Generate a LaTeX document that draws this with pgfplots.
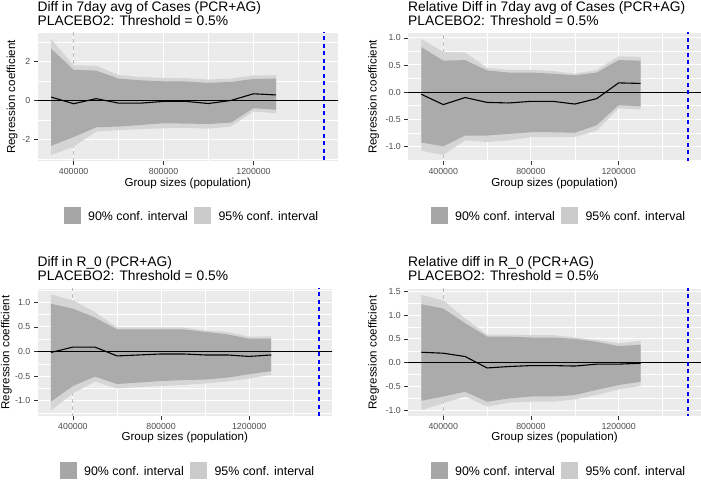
\documentclass[border=0pt]{standalone}
\usepackage{pgfplots}
\pgfplotsset{compat=1.18}
\usepackage{fontspec}
\setmainfont{Liberation Sans}
\definecolor{panelbg}{HTML}{EBEBEB}
\definecolor{bandlight}{HTML}{D5D5D5}
\definecolor{banddark}{HTML}{ABABAB}
\definecolor{legdark}{HTML}{A6A6A6}
\definecolor{leglight}{HTML}{CBCBCB}
\definecolor{labc}{HTML}{4D4D4D}
\definecolor{tickc}{HTML}{333333}
\definecolor{vgrey}{HTML}{BDBDBD}
\definecolor{bluel}{HTML}{0000FF}
\newcommand\ticksize{\fontsize{8.8}{10}\selectfont}
\newcommand\titlesize{\fontsize{13.8}{16}\selectfont}
\newcommand\labsize{\fontsize{11.6}{13}\selectfont}
\newcommand\legsize{\fontsize{12.4}{14}\selectfont}
\pgfplotsset{
  ggaxis/.style={
    scale only axis,
    anchor=south west,
    axis background/.style={fill=panelbg},
    axis line style={draw=none},
    xmin=239250, xmax=1575750,
    xtick={400000,800000,1200000},
    xticklabels={400000,800000,1200000},
    minor xtick={600000,1000000,1400000},
    grid=both,
    major grid style={white, line width=1.0pt},
    minor grid style={white, line width=0.5pt},
    tick align=outside,
    xtick pos=left, ytick pos=left,
    major tick length=3.7pt,
    minor tick length=0pt,
    tick style={color=tickc, line width=0.55pt},
    ticklabel style={font=\ticksize, text=labc},
    scaled ticks=false,
  },
  band95/.style={fill=bandlight, draw=none},
  band90/.style={fill=banddark, draw=none},
  est/.style={draw=black, line width=1.1pt},
  zeroline/.style={draw=black, line width=0.6pt},
  greyv/.style={draw=vgrey, line width=1.0pt, dash pattern=on 4pt off 3pt},
  bluev/.style={draw=bluel, line width=1.8pt, dash pattern=on 4pt off 3.5pt},
}
\begin{document}
\begin{tikzpicture}
\useasboundingbox (0pt,0pt) rectangle (701pt,480pt);

% ---------------- Titles ----------------
\node[anchor=base west, inner sep=0pt, font=\titlesize] at (37.5pt,468pt) {Diff in 7day avg of Cases (PCR+AG)};
\node[anchor=base west, inner sep=0pt, font=\titlesize] at (37.5pt,454pt) {PLACEBO2: Threshold = 0.5\%};
\node[anchor=base west, inner sep=0pt, font=\titlesize] at (408pt,468pt) {Relative Diff in 7day avg of Cases (PCR+AG)};
\node[anchor=base west, inner sep=0pt, font=\titlesize] at (408pt,454pt) {PLACEBO2: Threshold = 0.5\%};
\node[anchor=base west, inner sep=0pt, font=\titlesize] at (37.5pt,214pt) {Diff in R\_0 (PCR+AG)};
\node[anchor=base west, inner sep=0pt, font=\titlesize] at (37.5pt,200pt) {PLACEBO2: Threshold = 0.5\%};
\node[anchor=base west, inner sep=0pt, font=\titlesize] at (408pt,214pt) {Relative diff in R\_0 (PCR+AG)};
\node[anchor=base west, inner sep=0pt, font=\titlesize] at (408pt,200pt) {PLACEBO2: Threshold = 0.5\%};

% ---------------- Axis titles ----------------
\node[anchor=base, inner sep=0pt, font=\labsize] at (187.75pt,293pt) {Group sizes (population)};
\node[anchor=base, inner sep=0pt, font=\labsize] at (554.5pt,293pt) {Group sizes (population)};
\node[anchor=base, inner sep=0pt, font=\labsize] at (184.75pt,39.5pt) {Group sizes (population)};
\node[anchor=base, inner sep=0pt, font=\labsize] at (554.5pt,39.5pt) {Group sizes (population)};
\node[rotate=90, inner sep=0pt, font=\labsize] at (12pt,383pt) {Regression coefficient};
\node[rotate=90, inner sep=0pt, font=\labsize] at (373.5pt,383pt) {Regression coefficient};
\node[rotate=90, inner sep=0pt, font=\labsize] at (6.5pt,127.5pt) {Regression coefficient};
\node[rotate=90, inner sep=0pt, font=\labsize] at (373.5pt,127.5pt) {Regression coefficient};

% ---------------- Legends ----------------
\foreach \lx/\sq/\tb in {64/256/259.7, 431/256/259.7, 60/1.2/4.7, 431/1.2/4.7}{
  \fill[legdark] (\lx pt,\sq pt) rectangle ++(17pt,17pt);
  \node[anchor=base west, inner sep=0pt, font=\legsize] at ({\lx pt+24pt},\tb pt) {90\% conf. interval};
  \fill[leglight] ({\lx pt+130.3pt},\sq pt) rectangle ++(17pt,17pt);
  \node[anchor=base west, inner sep=0pt, font=\legsize] at ({\lx pt+154.3pt},\tb pt) {95\% conf. interval};
}

% ---------------- Panel 1 ----------------
\begin{axis}[ggaxis, at={(37.5pt,319pt)}, width=300.5pt, height=128pt,
  ymin=-3.11, ymax=3.46,
  ytick={-2,0,2}, yticklabels={-2,0,2},
  minor ytick={-3,-1,1,3}]
\addplot[greyv] coordinates {(400000,-10) (400000,10)};
\addplot[band95] coordinates {
 (300000,3.14) (400000,1.80) (500000,1.78) (600000,1.30) (700000,1.20) (800000,1.16) (900000,1.14) (1000000,1.07) (1100000,1.12) (1200000,1.28) (1300000,1.28)
 (1300000,-0.66) (1200000,-0.57) (1100000,-1.34) (1000000,-1.45) (900000,-1.41) (800000,-1.43) (700000,-1.47) (600000,-1.52) (500000,-1.60) (400000,-2.38) (300000,-2.81)} -- cycle;
\addplot[band90] coordinates {
 (300000,2.66) (400000,1.57) (500000,1.53) (600000,1.12) (700000,1.03) (800000,0.98) (900000,0.97) (1000000,0.90) (1100000,0.95) (1200000,1.10) (1300000,1.12)
 (1300000,-0.48) (1200000,-0.40) (1100000,-1.14) (1000000,-1.21) (900000,-1.19) (800000,-1.17) (700000,-1.26) (600000,-1.34) (500000,-1.38) (400000,-1.88) (300000,-2.33)} -- cycle;
\addplot[est] coordinates {(300000,0.17) (400000,-0.17) (500000,0.09) (600000,-0.14) (700000,-0.14) (800000,-0.05) (900000,-0.05) (1000000,-0.16) (1100000,0.00) (1200000,0.34) (1300000,0.28)};
\addplot[zeroline] coordinates {(200000,0) (1600000,0)};
\addplot[bluev] coordinates {(1515000,-10) (1515000,10)};
\end{axis}

% ---------------- Panel 2 ----------------
\begin{axis}[ggaxis, at={(408pt,319pt)}, width=293pt, height=128pt,
  ymin=-1.27, ymax=1.09,
  ytick={-1,-0.5,0,0.5,1}, yticklabels={-1.0,-0.5,0.0,0.5,1.0},
  minor ytick={-1.25,-0.75,-0.25,0.25,0.75}]
\addplot[greyv] coordinates {(400000,-10) (400000,10)};
\addplot[band95] coordinates {
 (300000,0.98) (400000,0.74) (500000,0.73) (600000,0.45) (700000,0.41) (800000,0.41) (900000,0.39) (1000000,0.34) (1100000,0.41) (1200000,0.66) (1300000,0.65)
 (1300000,-0.32) (1200000,-0.30) (1100000,-0.71) (1000000,-0.83) (900000,-0.83) (800000,-0.83) (700000,-0.89) (600000,-0.92) (500000,-0.89) (400000,-1.16) (300000,-1.08)} -- cycle;
\addplot[band90] coordinates {
 (300000,0.83) (400000,0.58) (500000,0.59) (600000,0.40) (700000,0.36) (800000,0.36) (900000,0.34) (1000000,0.31) (1100000,0.36) (1200000,0.59) (1300000,0.58)
 (1300000,-0.26) (1200000,-0.24) (1100000,-0.61) (1000000,-0.75) (900000,-0.74) (800000,-0.74) (700000,-0.77) (600000,-0.80) (500000,-0.80) (400000,-1.00) (300000,-0.93)} -- cycle;
\addplot[est] coordinates {(300000,-0.04) (400000,-0.23) (500000,-0.10) (600000,-0.19) (700000,-0.20) (800000,-0.17) (900000,-0.17) (1000000,-0.22) (1100000,-0.12) (1200000,0.17) (1300000,0.16)};
\addplot[zeroline] coordinates {(200000,0) (1600000,0)};
\addplot[bluev] coordinates {(1515000,-10) (1515000,10)};
\end{axis}

% ---------------- Panel 3 ----------------
\begin{axis}[ggaxis, at={(37.5pt,64pt)}, width=294.5pt, height=127pt,
  ymin=-1.31, ymax=1.27,
  ytick={-1,-0.5,0,0.5,1}, yticklabels={-1.0,-0.5,0.0,0.5,1.0},
  minor ytick={-1.25,-0.75,-0.25,0.25,0.75,1.25}]
\addplot[greyv] coordinates {(400000,-10) (400000,10)};
\addplot[band95] coordinates {
 (300000,1.16) (400000,1.04) (500000,0.80) (600000,0.49) (700000,0.49) (800000,0.49) (900000,0.49) (1000000,0.43) (1100000,0.40) (1200000,0.30) (1300000,0.31)
 (1300000,-0.47) (1200000,-0.55) (1100000,-0.61) (1000000,-0.65) (900000,-0.68) (800000,-0.70) (700000,-0.72) (600000,-0.75) (500000,-0.61) (400000,-0.85) (300000,-1.20)} -- cycle;
\addplot[band90] coordinates {
 (300000,0.97) (400000,0.87) (500000,0.69) (600000,0.45) (700000,0.45) (800000,0.45) (900000,0.45) (1000000,0.40) (1100000,0.35) (1200000,0.26) (1300000,0.26)
 (1300000,-0.40) (1200000,-0.46) (1100000,-0.53) (1000000,-0.57) (900000,-0.58) (800000,-0.60) (700000,-0.63) (600000,-0.66) (500000,-0.51) (400000,-0.70) (300000,-1.02)} -- cycle;
\addplot[est] coordinates {(300000,-0.02) (400000,0.09) (500000,0.09) (600000,-0.09) (700000,-0.07) (800000,-0.05) (900000,-0.05) (1000000,-0.07) (1100000,-0.07) (1200000,-0.10) (1300000,-0.07)};
\addplot[zeroline] coordinates {(200000,0) (1600000,0)};
\addplot[bluev] coordinates {(1515000,-10) (1515000,10)};
\end{axis}

% ---------------- Panel 4 ----------------
\begin{axis}[ggaxis, at={(408pt,64pt)}, width=293pt, height=127pt,
  ymin=-1.12, ymax=1.55,
  ytick={-1,-0.5,0,0.5,1,1.5}, yticklabels={-1.0,-0.5,0.0,0.5,1.0,1.5},
  minor ytick={-0.75,-0.25,0.25,0.75,1.25}]
\addplot[greyv] coordinates {(400000,-10) (400000,10)};
\addplot[band95] coordinates {
 (300000,1.43) (400000,1.31) (500000,0.93) (600000,0.59) (700000,0.59) (800000,0.58) (900000,0.58) (1000000,0.53) (1100000,0.48) (1200000,0.41) (1300000,0.46)
 (1300000,-0.49) (1200000,-0.56) (1100000,-0.68) (1000000,-0.77) (900000,-0.82) (800000,-0.82) (700000,-0.84) (600000,-0.92) (500000,-0.71) (400000,-0.85) (300000,-1.00)} -- cycle;
\addplot[band90] coordinates {
 (300000,1.23) (400000,1.14) (500000,0.83) (600000,0.55) (700000,0.55) (800000,0.53) (900000,0.53) (1000000,0.50) (1100000,0.44) (1200000,0.35) (1300000,0.38)
 (1300000,-0.40) (1200000,-0.47) (1100000,-0.57) (1000000,-0.68) (900000,-0.71) (800000,-0.71) (700000,-0.75) (600000,-0.82) (500000,-0.61) (400000,-0.71) (300000,-0.80)} -- cycle;
\addplot[est] coordinates {(300000,0.22) (400000,0.20) (500000,0.13) (600000,-0.11) (700000,-0.08) (800000,-0.06) (900000,-0.06) (1000000,-0.07) (1100000,-0.03) (1200000,-0.03) (1300000,-0.01)};
\addplot[zeroline] coordinates {(200000,0) (1600000,0)};
\addplot[bluev] coordinates {(1515000,-10) (1515000,10)};
\end{axis}
\end{tikzpicture}
\end{document}
